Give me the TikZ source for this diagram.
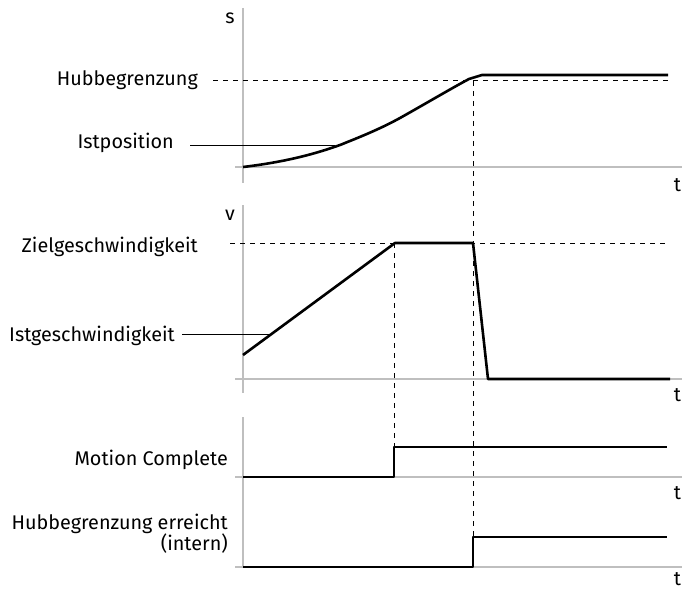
\documentclass[tikz,border=0pt]{standalone}
\usepackage{fontspec}
\setmainfont{Fira Sans}
\begin{document}
\begin{tikzpicture}[x=1pt,y=-1pt,
  axis/.style={draw=black!25, line width=1.2pt},
  sig/.style={line width=2.6pt, line join=round},
  guide/.style={line width=1pt, dash pattern=on 5pt off 5pt},
  leader/.style={line width=1pt},
  lbl/.style={font=\fontsize{19.8}{21}\selectfont, inner sep=0pt, anchor=base east, align=right},
  axl/.style={font=\fontsize{19.8}{21}\selectfont, inner sep=0pt, anchor=base},
]
\useasboundingbox (0,0) rectangle (685,591);

% axes
\draw[axis] (243,8) -- (243,183);
\draw[axis] (235,167) -- (682,167);
\draw[axis] (243,205) -- (243,393);
\draw[axis] (235,379) -- (682,379);
\draw[axis] (243,417) -- (243,567);
\draw[axis] (235,477) -- (682,477);
\draw[axis] (235,567) -- (682,567);

% axis labels
\node[axl] (ls) at (230,24) {s};
\node[axl] (lv) at (230,220.5) {v};
\node[axl] (t1) at (677.5,191) {t};
\node[axl] (t2) at (677.5,401.5) {t};
\node[axl] (t3) at (677.5,499) {t};
\node[axl] (t4) at (677.5,585.5) {t};

% dashed guides
\draw[guide] (213,81) -- (668,81);
\draw[guide] (230,243) -- (668,243);
\draw[guide] (394,243) -- (394,447);
\draw[guide] (473,81) -- (473,537);

% signals
\draw[sig] (243,167) .. controls (285,162) and (315,154) .. (340,145)
  .. controls (360,137) and (380,129) .. (400,118)
  .. controls (425,104) and (452,88) .. (469,79) -- (482,75) -- (668,75);
\draw[sig] (243,355) -- (395,243) -- (473,243) -- (488,379) -- (670,379);
\draw[sig] (243,477) -- (394,477) -- (394,447) -- (667,447);
\draw[sig] (243,567) -- (473,567) -- (473,537) -- (667,537);

% labels
\node[lbl] (hub) at (198,86) {Hubbegrenzung};
\node[lbl] (ist) at (174,148) {Istposition};
\node[lbl] (ziel) at (198,252) {Zielgeschwindigkeit};
\node[lbl] (istv) at (175,341.7) {Istgeschwindigkeit};
\node[lbl] (mc) at (228,465) {Motion Complete};
\node[lbl] (he) at (228,550) {Hubbegrenzung erreicht\\(intern)};

% leaders
\coordinate (istA) at (190,145);
\coordinate (istB) at (335,145);
\draw[leader] (istA) -- (istB);
\coordinate (istvA) at (182,334);
\coordinate (istvB) at (270,334);
\draw[leader] (istvA) -- (istvB);
\end{tikzpicture}
\end{document}
